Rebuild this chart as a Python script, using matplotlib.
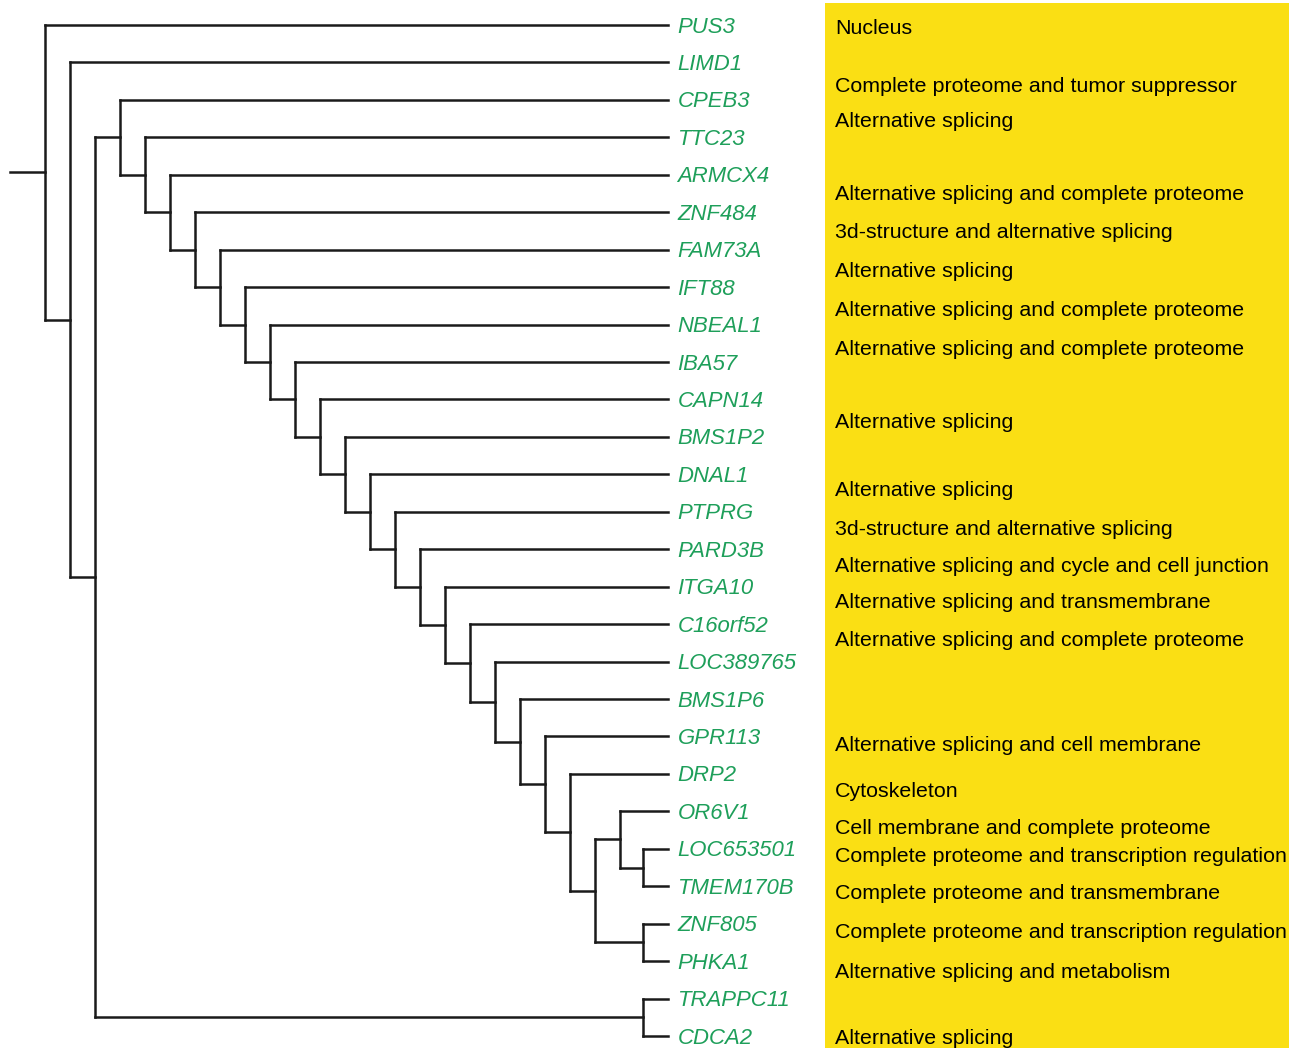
import matplotlib
matplotlib.use("Agg")
import matplotlib.pyplot as plt
from matplotlib.transforms import offset_copy

# leaf order top to bottom
leaves = ["PUS3", "LIMD1", "CPEB3", "TTC23", "ARMCX4", "ZNF484", "FAM73A",
          "IFT88", "NBEAL1", "IBA57", "CAPN14", "BMS1P2", "DNAL1", "PTPRG",
          "PARD3B", "ITGA10", "C16orf52", "LOC389765", "BMS1P6", "GPR113",
          "DRP2", "OR6V1", "LOC653501", "TMEM170B", "ZNF805", "PHKA1",
          "TRAPPC11", "CDCA2"]
tip_depth = 24.9

# ladder part of the tree: each leaf branches off at the given node depth
spine = ["CPEB3", "TTC23", "ARMCX4", "ZNF484", "FAM73A", "IFT88", "NBEAL1",
         "IBA57", "CAPN14", "BMS1P2", "DNAL1", "PTPRG", "PARD3B", "ITGA10",
         "C16orf52", "LOC389765", "BMS1P6", "GPR113", "DRP2"]
spine_depth = [3, 4, 5, 6, 7, 8, 9, 10, 11, 12, 13, 14, 15, 16, 17, 18, 19,
               20, 21]

# annotations in the yellow panel (row position in leaf units)
annot_text = ["Nucleus",
              "Complete proteome and tumor suppressor",
              "Alternative splicing",
              "Alternative splicing and complete proteome",
              "3d-structure and alternative splicing",
              "Alternative splicing",
              "Alternative splicing and complete proteome",
              "Alternative splicing and complete proteome",
              "Alternative splicing",
              "Alternative splicing",
              "3d-structure and alternative splicing",
              "Alternative splicing and cycle and cell junction",
              "Alternative splicing and transmembrane",
              "Alternative splicing and complete proteome",
              "Alternative splicing and cell membrane",
              "Cytoskeleton",
              "Cell membrane and complete proteome",
              "Complete proteome and transcription regulation",
              "Complete proteome and transmembrane",
              "Complete proteome and transcription regulation",
              "Alternative splicing and metabolism",
              "Alternative splicing"]
annot_pos = [0.05, 1.58, 2.51, 4.46, 5.48, 6.52, 7.56, 8.60, 10.55, 12.37,
             13.43, 14.40, 15.38, 16.37, 19.18, 20.41, 21.39, 22.14, 23.13,
             24.17, 25.24, 27.0]

# build nested tree: (depth, left, right)
bottom = (22, (23, "OR6V1", (23.9, "LOC653501", "TMEM170B")),
          (23.9, "ZNF805", "PHKA1"))
for name, d in zip(spine[::-1], spine_depth[::-1]):
    bottom = (d, name, bottom)
tree = (0, "PUS3", (1, "LIMD1", (2, bottom, (23.9, "TRAPPC11", "CDCA2"))))

fig = plt.figure(figsize=(12.89, 10.48), dpi=100)
ax = fig.add_axes([0, 0, 1, 1])
ax.set_xlim(-1.8, 49.76)
ax.set_ylim(27.32, -0.668)
ax.axis("off")

lc = "#1a1a1a"
lw = 1.8


def draw(node):
    # returns (depth, y) of the node
    if isinstance(node, str):
        return tip_depth, leaves.index(node)
    d, a, b = node
    da, ya = draw(a)
    db, yb = draw(b)
    ax.plot([d, d], [ya, yb], color=lc, lw=lw, solid_capstyle="projecting")
    ax.plot([d, da], [ya, ya], color=lc, lw=lw, solid_capstyle="projecting")
    ax.plot([d, db], [yb, yb], color=lc, lw=lw, solid_capstyle="projecting")
    return d, (ya + yb) / 2


d0, y0 = draw(tree)
ax.plot([-1.4, d0], [y0, y0], color=lc, lw=lw)

# nudge text down a little so it sits centred on the branches
tr = offset_copy(ax.transData, fig=fig, y=-1.5, units="points")

for i, name in enumerate(leaves):
    ax.text(tip_depth + 0.4, i, name, color="#1E9F5A", style="italic",
            fontsize=15.9, family="Liberation Sans", va="center", ha="left",
            transform=tr)

# yellow panel
ax.add_patch(plt.Rectangle((31.2, -0.59), 20, 30, color="#FADF14", lw=0,
                           zorder=0))
for txt, p in zip(annot_text, annot_pos):
    ax.text(31.6, p, txt, color="black", fontsize=15.4,
            family="Liberation Sans", va="center", ha="left", transform=tr)

fig.savefig("out.png", dpi=100)
